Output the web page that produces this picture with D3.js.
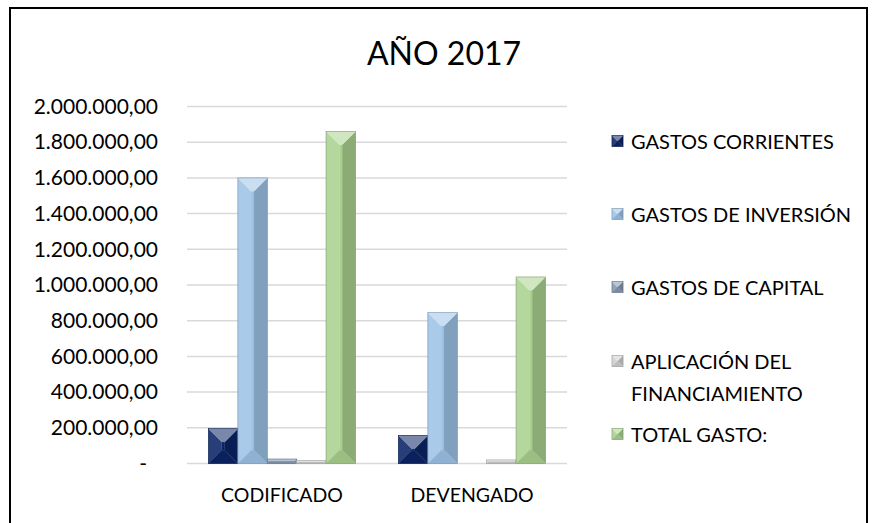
<!DOCTYPE html>
<html>
<head>
<meta charset="utf-8">
<script src="https://cdn.jsdelivr.net/npm/d3@7"></script>
<style>
  body { margin: 0; background: #fff; }
  text { font-family: Lato, "Liberation Sans", sans-serif; fill: #000; }
</style>
</head>
<body>
<svg id="chart"></svg>
<script>
// data
const categories = ['CODIFICADO', 'DEVENGADO'];
const seriesNames = ['GASTOS CORRIENTES', 'GASTOS DE INVERSIÓN', 'GASTOS DE CAPITAL', 'APLICACIÓN DEL FINANCIAMIENTO', 'TOTAL GASTO:'];
const gastosCorrientes = [195000, 157000];
const gastosInversion = [1600000, 845000];
const gastosCapital = [25000, 0];
const aplicacionFinanciamiento = [16000, 20000];
const totalGasto = [1860000, 1045000];
const yTicks = [0, 200000, 400000, 600000, 800000, 1000000, 1200000, 1400000, 1600000, 1800000, 2000000];
const seriesColours = ['#0b2466', '#9dc3e6', '#8497b0', '#d0d0d0', '#a9d18e'];

const seriesValues = [gastosCorrientes, gastosInversion, gastosCapital, aplicacionFinanciamiento, totalGasto];

const width = 872, height = 523;
const svg = d3.select('#chart').attr('width', width).attr('height', height);

// outer chart border (bottom cut off in the picture)
svg.append('path')
  .attr('d', 'M10,530 L10,8 L867,8 L867,530')
  .attr('fill', 'none')
  .attr('stroke', '#000')
  .attr('stroke-width', 2);

svg.append('text')
  .attr('x', 444)
  .attr('y', 65)
  .attr('text-anchor', 'middle')
  .attr('font-size', 32)
  .text('AÑO 2017');

const plot = { left: 187, right: 567, top: 106.5, bottom: 463.5 };

const y = d3.scaleLinear().domain([0, 2000000]).range([plot.bottom, plot.top]);
const x0 = d3.scaleBand().domain(categories).range([plot.left, plot.right])
  .paddingInner(0.2263).paddingOuter(0.1132);
const x1 = d3.scaleBand().domain(seriesNames).range([0, x0.bandwidth()]);

const esLocale = d3.formatLocale({ decimal: ',', thousands: '.', grouping: [3], currency: ['', ''] });
const fmt = esLocale.format(',.2f');

// gridlines
svg.append('g')
  .selectAll('line')
  .data(yTicks)
  .join('line')
  .attr('x1', plot.left).attr('x2', plot.right)
  .attr('y1', d => y(d)).attr('y2', d => y(d))
  .attr('stroke', '#d9d9d9')
  .attr('stroke-width', 1.5);

// y axis labels
const yAxis = d3.axisLeft(y).tickValues(yTicks).tickSize(0).tickPadding(0)
  .tickFormat(d => d === 0 ? '-' : fmt(d));
const yAxisG = svg.append('g')
  .attr('transform', 'translate(158,0)')
  .call(yAxis);
yAxisG.select('.domain').remove();
yAxisG.selectAll('text')
  .attr('font-size', 21)
  .attr('fill', '#000')
  .attr('x', d => d === 0 ? -11 : 0);

// x axis labels
const xAxis = d3.axisBottom(x0).tickSize(0).tickPadding(0);
const xAxisG = svg.append('g')
  .attr('transform', 'translate(0,502)')
  .call(xAxis);
xAxisG.select('.domain').remove();
xAxisG.selectAll('text')
  .attr('font-size', 19.5)
  .attr('fill', '#000')
  .attr('dy', 0);

// bevelled bar, drawn as five facets
function bevel(g, x, yTop, w, h, colour) {
  const c = d3.color(colour);
  const b = Math.min(w * 0.45, h / 2);
  const xl = x, xr = x + w, yt = yTop, yb = yTop + h;
  const facets = [
    { pts: [[xl + b, yt + b], [xr - b, yt + b], [xr - b, yb - b], [xl + b, yb - b]], fill: c.formatHex() },
    { pts: [[xl, yt], [xl + b, yt + b], [xl + b, yb - b], [xl, yb]], fill: d3.interpolateRgb(c, '#fff')(0.12) },
    { pts: [[xr, yt], [xr - b, yt + b], [xr - b, yb - b], [xr, yb]], fill: c.darker(0.55).formatHex() },
    { pts: [[xl, yt], [xr, yt], [xr - b, yt + b], [xl + b, yt + b]], fill: d3.interpolateRgb(c, '#fff')(0.45) },
    { pts: [[xl, yb], [xr, yb], [xr - b, yb - b], [xl + b, yb - b]], fill: c.darker(0.25).formatHex() }
  ];
  g.selectAll('polygon')
    .data(facets)
    .join('polygon')
    .attr('points', d => d.pts.map(p => p.join(',')).join(' '))
    .attr('fill', d => d.fill)
    .attr('stroke', d => d.fill)
    .attr('stroke-width', 0.3);
  g.append('rect')
    .attr('x', xl).attr('y', yt).attr('width', w).attr('height', h)
    .attr('fill', 'none')
    .attr('stroke', c.darker(0.8).formatHex())
    .attr('stroke-width', 0.6);
}

const barData = [];
categories.forEach((cat, ci) => {
  seriesNames.forEach((s, si) => {
    barData.push({ cat, series: s, value: seriesValues[si][ci], colour: seriesColours[si] });
  });
});

svg.append('g')
  .selectAll('g')
  .data(barData.filter(d => d.value > 0))
  .join('g')
  .each(function (d) {
    const bx = x0(d.cat) + x1(d.series);
    const by = y(d.value);
    bevel(d3.select(this), bx, by, x1.bandwidth(), y(0) - by, d.colour);
  });

// legend
const legendY = [141, 214, 287, 361, 434];
const legend = svg.append('g');
seriesNames.forEach((s, i) => {
  const g = legend.append('g').attr('transform', `translate(612,${legendY[i]})`);
  bevel(g.append('g'), 0, -5.5, 11, 11, seriesColours[i]);
  const lines = s === 'APLICACIÓN DEL FINANCIAMIENTO' ? ['APLICACIÓN DEL', 'FINANCIAMIENTO'] : [s];
  const t = g.append('text')
    .attr('x', 19)
    .attr('y', 0)
    .attr('font-size', 20)
    .attr('dominant-baseline', 'central');
  lines.forEach((l, li) => {
    t.append('tspan').attr('x', 19).attr('dy', li === 0 ? 0 : 32).text(l);
  });
});
</script>
</body>
</html>
